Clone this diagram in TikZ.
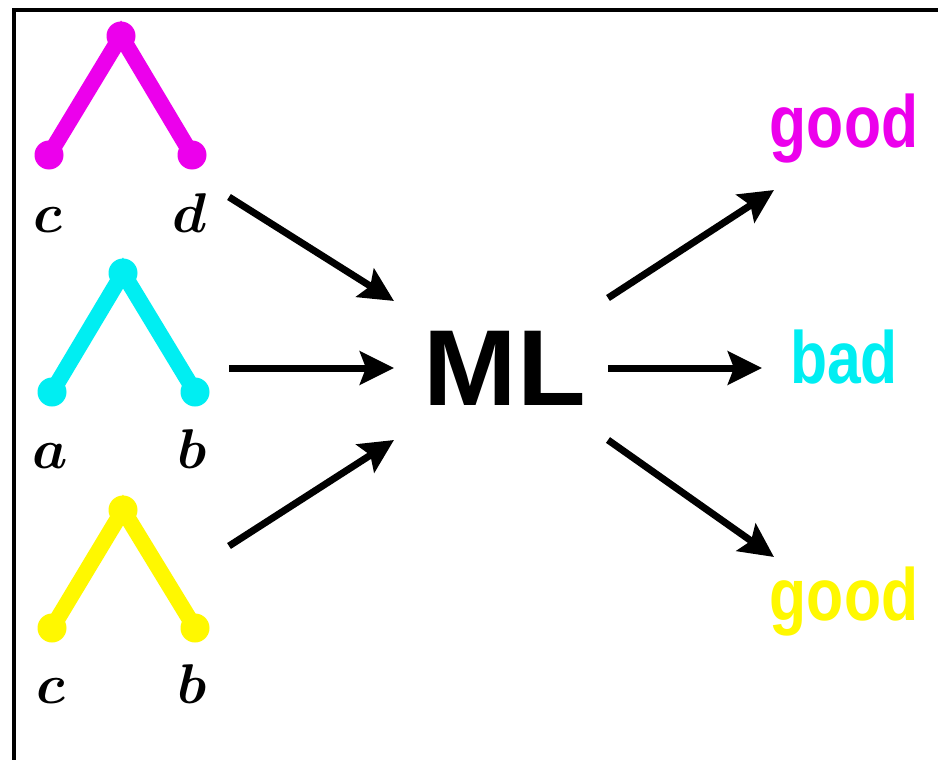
\documentclass[tikz,border=0pt]{standalone}
\usepackage{fontspec}
\usepackage{unicode-math}
\setmathfont{Latin Modern Math}
\newfontfamily\boldsans{Liberation Sans Bold}
\usetikzlibrary{arrows.meta}
\definecolor{tmag}{RGB}{236,0,236}
\definecolor{tcyan}{RGB}{0,238,242}
\definecolor{tyel}{RGB}{255,248,0}
\begin{document}
\begin{tikzpicture}[x=1pt,y=-1pt,
  branch/.style={line width=16pt},
  dot/.style={circle,fill,inner sep=0pt,minimum size=29pt},
  leaflabel/.style={inner sep=0pt,anchor=base,font=\fontsize{56}{56}\selectfont},
  outword/.style={inner sep=0pt,anchor=base,font=\boldsans\fontsize{74}{74}\selectfont},
  flow/.style={line width=7pt,-{Stealth[length=34pt,width=33pt,inset=6pt]}}]
\useasboundingbox (0,0) rectangle (938,760);
\clip (0,0) rectangle (938,760);
\fill[white] (0,0) rectangle (938,760);
\draw[line width=4.5pt] (14,10) rectangle (980,800);
% magenta tree
\node[dot,tmag] (mt) at (121,36) {};
\node[dot,tmag] (ml) at (49,155) {};
\node[dot,tmag] (mr) at (192,155) {};
\draw[branch,tmag] (ml.center) -- (mt.center) -- (mr.center);
\node[leaflabel] (lc1) at (49,232) {$\mathbfit{c}$};
\node[leaflabel] (ld1) at (190,232) {$\mathbfit{d}$};
% cyan tree
\node[dot,tcyan] (ct) at (123,273) {};
\node[dot,tcyan] (cl) at (52,392) {};
\node[dot,tcyan] (cr) at (195,392) {};
\draw[branch,tcyan] (cl.center) -- (ct.center) -- (cr.center);
\node[leaflabel] (la2) at (50,468) {$\mathbfit{a}$};
\node[leaflabel] (lb2) at (192,468) {$\mathbfit{b}$};
% yellow tree
\node[dot,tyel] (yt) at (123,510) {};
\node[dot,tyel] (yl) at (52,628) {};
\node[dot,tyel] (yr) at (195,628) {};
\draw[branch,tyel] (yl.center) -- (yt.center) -- (yr.center);
\node[leaflabel] (lc3) at (52,703) {$\mathbfit{c}$};
\node[leaflabel] (lb3) at (192,703) {$\mathbfit{b}$};
% ML
\node[inner sep=0pt,anchor=base,font=\boldsans\fontsize{108}{108}\selectfont] (mlnode) at (505,405) {\scalebox{1.04}[1]{ML}};
% outputs
\node[outword,text=tmag] (g1) at (844,147) {\scalebox{0.82}[1]{good}};
\node[outword,text=tcyan] (b2) at (844,383) {\scalebox{0.82}[1]{bad}};
\node[outword,text=tyel] (g3) at (844,620) {\scalebox{0.82}[1]{good}};
% arrow end points
\coordinate (i1) at (229,197);
\coordinate (i2) at (229,368);
\coordinate (i3) at (229,546);
\coordinate (e1) at (394,301);
\coordinate (e2) at (394,368);
\coordinate (e3) at (394,440);
\coordinate (s1) at (608,298);
\coordinate (s2) at (608,368);
\coordinate (s3) at (608,440);
\coordinate (o1) at (774,190);
\coordinate (o2) at (762,368);
\coordinate (o3) at (774,557);
\draw[flow] (i1) -- (e1);
\draw[flow] (i2) -- (e2);
\draw[flow] (i3) -- (e3);
\draw[flow] (s1) -- (o1);
\draw[flow] (s2) -- (o2);
\draw[flow] (s3) -- (o3);
\end{tikzpicture}
\end{document}
